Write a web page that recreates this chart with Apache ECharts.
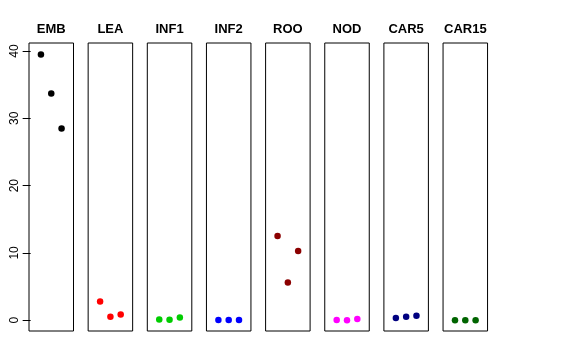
<!DOCTYPE html>
<html><head><meta charset="utf-8">
<script src="https://cdn.jsdelivr.net/npm/echarts@6/dist/echarts.min.js"></script>
<style>html,body{margin:0;padding:0;background:#fff}#c{width:576px;height:360px}</style>
</head><body><div id="c"></div>
<script>
const panels = ["EMB","LEA","INF1","INF2","ROO","NOD","CAR5","CAR15"];
const colors = ["#000000","#FF0000","#00CD00","#0000FF","#8B0000","#FF00FF","#000080","#006400"];
const xPositions = [1,2,3];
const EMB = [39.5, 33.7, 28.5];
const LEA = [2.8, 0.5, 0.85];
const INF1 = [0.1, 0.08, 0.42];
const INF2 = [0.05, 0.05, 0.05];
const ROO = [12.5, 5.6, 10.3];
const NOD = [0.02, 0.0, 0.2];
const CAR5 = [0.35, 0.5, 0.65];
const CAR15 = [0.0, 0.0, 0.0];
const values = [EMB, LEA, INF1, INF2, ROO, NOD, CAR5, CAR15];
const yTicks = [0, 10, 20, 30, 40];

const chart = echarts.init(document.getElementById('c'), null, {renderer:'canvas'});
const L0 = 29, STEP = 59.15, W = 44.5, TOP = 43, H = 288;
const grids = [], xAxes = [], yAxes = [], series = [], texts = [];
panels.forEach((name, i) => {
  const left = L0 + i * STEP;
  grids.push({left: left, top: TOP, width: W, height: H, show: true,
    borderColor: '#000', borderWidth: 1, backgroundColor: 'transparent', containLabel: false});
  xAxes.push({gridIndex: i, type: 'value', min: -0.16, max: 4.16, show: false});
  yAxes.push({gridIndex: i, type: 'value', min: -1.6, max: 41.2,
    show: i === 0,
    axisLine: {show: false},
    splitLine: {show: false},
    axisTick: {show: i === 0, length: 8, inside: false, lineStyle: {color: '#000'}, customValues: yTicks},
    axisLabel: {show: i === 0, rotate: 90, margin: 8, color: '#000', fontSize: 12,
      fontFamily: 'Liberation Sans, Arial, sans-serif', customValues: yTicks}
  });
  series.push({type: 'scatter', xAxisIndex: i, yAxisIndex: i,
    data: xPositions.map((x, k) => [x, values[i][k]]),
    symbol: 'circle', symbolSize: 6.5,
    itemStyle: {color: colors[i], opacity: 1}, silent: true});
  texts.push({type: 'text', x: left + W / 2, y: 29.5,
    style: {text: name, align: 'center', verticalAlign: 'middle', fill: '#000',
      font: 'bold 13px "Liberation Sans", Arial, sans-serif'}});
});
chart.setOption({animation: false, grid: grids, xAxis: xAxes, yAxis: yAxes, series: series, graphic: texts});
</script></body></html>
